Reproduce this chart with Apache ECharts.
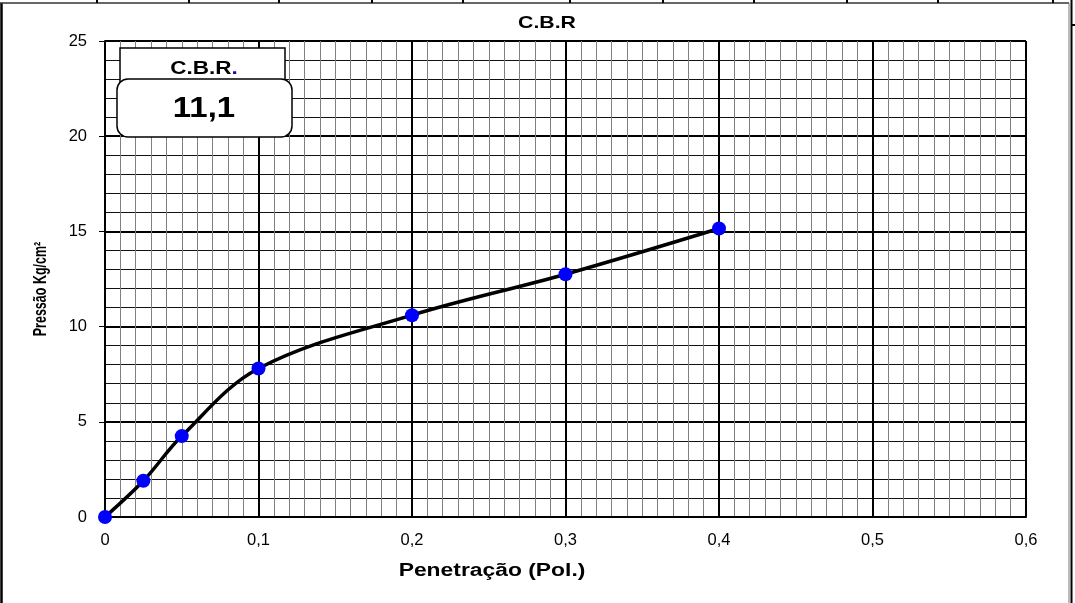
<!DOCTYPE html>
<html><head><meta charset="utf-8">
<script src="https://cdn.jsdelivr.net/npm/echarts@6/dist/echarts.min.js"></script>
<style>html,body{margin:0;padding:0;background:#fff}#c{width:1075px;height:603px}</style>
</head><body><div id="c"></div>
<script>
const penetracao = [0, 0.025, 0.05, 0.1, 0.2, 0.3, 0.4];
const pressao = [0, 1.9, 4.25, 7.8, 10.6, 12.75, 15.15];
const cbrLabel = 'C.B.R';
const cbrValue = '11,1';
const xName = 'Penetração (Pol.)';
const yName = 'Pressão Kg/cm²';

const chart = echarts.init(document.getElementById('c'), null, {renderer: 'canvas'});
const F = '"Liberation Sans", Arial, sans-serif';
const SX = 1.25;
const topTicks = [97, 189, 279, 372, 463, 570, 663, 754, 847, 938, 1053];
const graphics = [
  {type: 'line', shape: {x1: 1.5, y1: 3, x2: 1.5, y2: 603}, style: {stroke: '#000', lineWidth: 2.5}},
  {type: 'line', shape: {x1: 0, y1: 3, x2: 1069, y2: 3}, style: {stroke: '#333', lineWidth: 1.5}},
  {type: 'line', shape: {x1: 1069, y1: 3, x2: 1069, y2: 603}, style: {stroke: '#777', lineWidth: 1}},
  {type: 'line', shape: {x1: 1071.5, y1: 0, x2: 1071.5, y2: 603}, style: {stroke: '#000', lineWidth: 2}},
  {type: 'line', shape: {x1: 1071, y1: 25, x2: 1075, y2: 25}, style: {stroke: '#000', lineWidth: 2}},
  // title
  {type: 'text', x: 547, y: 23, scaleX: SX, style: {text: cbrLabel, font: 'bold 17px ' + F, fill: '#000', align: 'center', verticalAlign: 'middle'}},
  // axis names
  {type: 'text', x: 492, y: 571, scaleX: 1.27, style: {text: xName, font: 'bold 18px ' + F, fill: '#000', align: 'center', verticalAlign: 'middle'}},
  {type: 'text', x: 41, y: 289, rotation: Math.PI / 2, scaleY: 1.4, style: {text: yName, font: 'bold 12.5px ' + F, fill: '#000', align: 'center', verticalAlign: 'middle'}},
  // C.B.R. box
  {type: 'rect', shape: {x: 120, y: 48, width: 165, height: 36}, style: {fill: '#fff', stroke: '#000', lineWidth: 1.5}, z: 10},
  {type: 'text', x: 204, y: 69, scaleX: SX, z: 11,
    style: {text: '{a|C.B.R}{b|.}', align: 'center', verticalAlign: 'middle',
      rich: {a: {font: 'bold 18px ' + F, fill: '#000'}, b: {font: 'bold 18px ' + F, fill: '#1010a0'}}}},
  {type: 'rect', shape: {x: 117, y: 79, width: 175, height: 58, r: 11}, style: {fill: '#fff', stroke: '#000', lineWidth: 1.5}, z: 12},
  {type: 'text', x: 204, y: 109, scaleX: 1.1, style: {text: cbrValue, font: 'bold 30px ' + F, fill: '#000', align: 'center', verticalAlign: 'middle'}, z: 13}
];
topTicks.forEach(x => graphics.push({type: 'line', shape: {x1: x, y1: 0, x2: x, y2: 3}, style: {stroke: '#000', lineWidth: 2}}));

chart.setOption({
  animation: false,
  grid: {left: 105, right: 49, top: 41, bottom: 86},
  xAxis: {
    type: 'value', min: 0, max: 0.6, interval: 0.1,
    axisLine: {show: true, onZero: false, lineStyle: {color: '#000', width: 2}},
    axisTick: {show: false},
    axisLabel: {fontFamily: F, fontSize: 16.5, color: '#000', margin: 15, formatter: v => String(Math.round(v * 10) / 10).replace('.', ',')},
    splitLine: {show: true, lineStyle: {color: '#000', width: 2}},
    minorTick: {show: false, splitNumber: 10},
    minorSplitLine: {show: true, lineStyle: {color: '#808080', width: 1}}
  },
  yAxis: {
    type: 'value', min: 0, max: 25, interval: 5,
    axisLine: {show: true, lineStyle: {color: '#000', width: 2}},
    axisTick: {show: true, length: 6, lineStyle: {color: '#000', width: 1}},
    axisLabel: {fontFamily: F, fontSize: 16.5, color: '#000', margin: 18},
    splitLine: {show: true, lineStyle: {color: '#000', width: 2}},
    minorTick: {show: false, splitNumber: 5},
    minorSplitLine: {show: true, lineStyle: {color: '#111', width: 1}}
  },
  series: [{
    type: 'line', data: penetracao.map((x, i) => [x, pressao[i]]),
    smooth: 0.35, symbol: 'circle', symbolSize: 14,
    lineStyle: {color: '#000', width: 3.5},
    itemStyle: {color: '#0000ff', borderWidth: 0},
    z: 5
  }],
  graphic: graphics
});
</script></body></html>
